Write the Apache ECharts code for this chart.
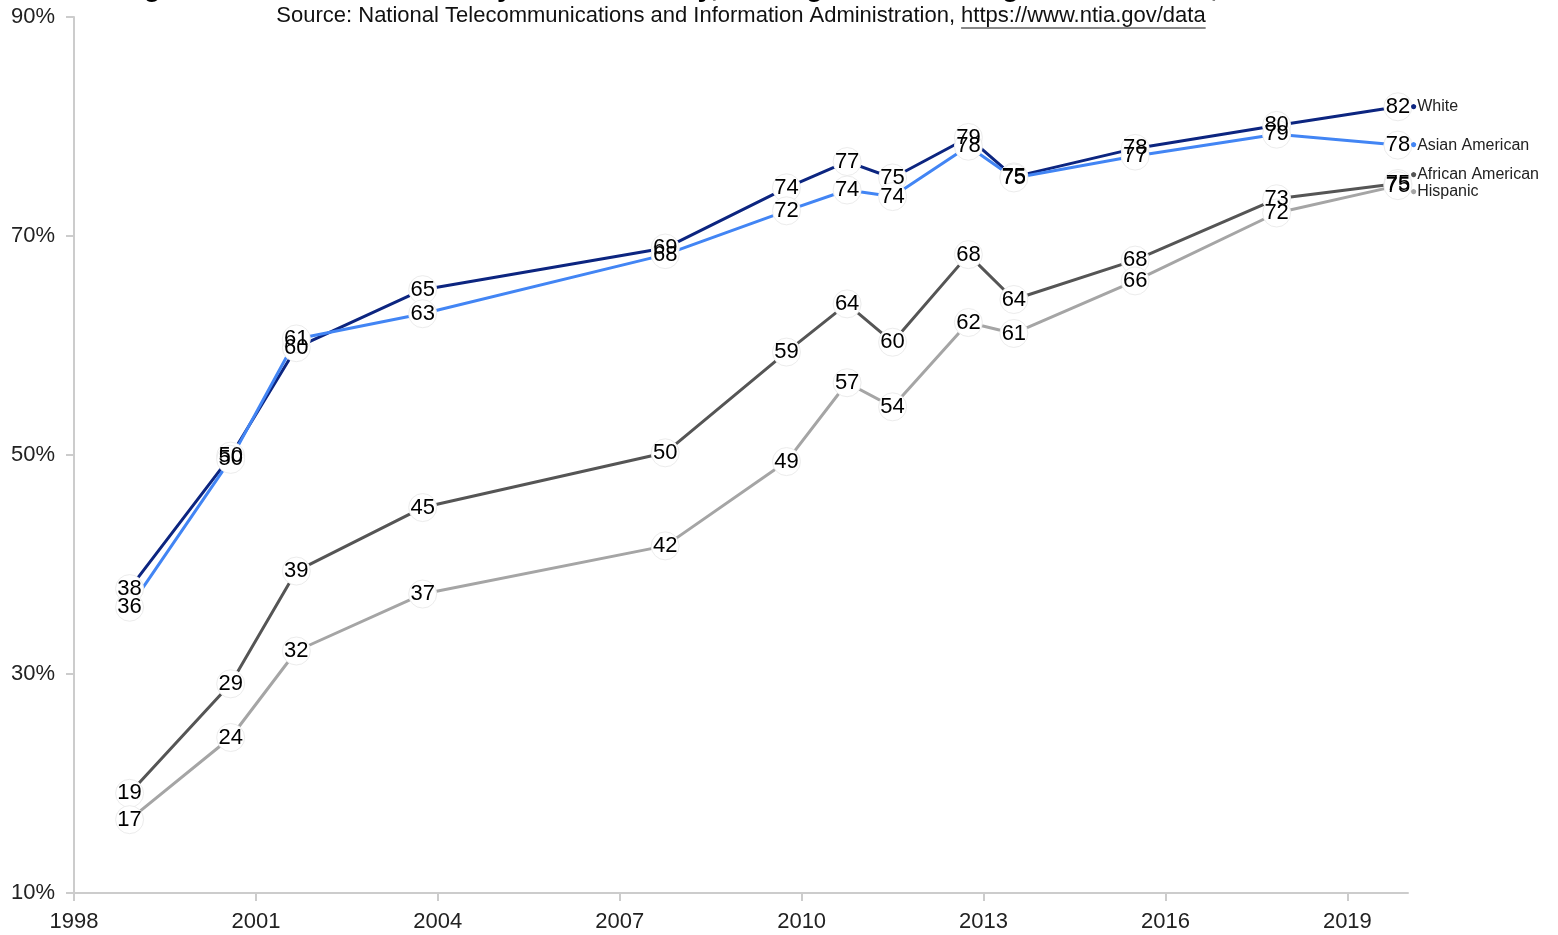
<!DOCTYPE html>
<html>
<head>
<meta charset="utf-8">
<script src="https://cdn.jsdelivr.net/npm/echarts@6/dist/echarts.min.js"></script>
<style>
html,body{margin:0;padding:0;background:#fff;}
#chart{width:1558px;height:935px;}
</style>
</head>
<body>
<div id="chart"></div>
<script>
// ---- data ----
const surveyDates = ['1998-12','2000-08','2001-09','2003-10','2007-10','2009-10','2010-10','2011-07','2012-10','2013-07','2015-07','2017-11','2019-11'];
const seriesNames = ['White','Asian American','African American','Hispanic'];
const whiteValues    = [37.8, 49.9, 59.8, 65.1, 68.9, 74.4, 76.8, 75.3, 79.0, 75.4, 78.0, 80.1, 81.8];
const asianValues    = [36.1, 49.6, 60.6, 62.9, 68.3, 72.3, 74.2, 73.6, 78.2, 75.3, 77.3, 79.3, 78.3];
const africanValues  = [19.1, 29.1, 39.4, 45.2, 50.2, 59.4, 63.8, 60.3, 68.3, 64.2, 67.8, 73.4, 74.8];
const hispanicValues = [16.7, 24.2, 32.1, 37.3, 41.7, 49.4, 56.6, 54.4, 62.1, 61.1, 65.9, 72.1, 74.6];
const xTickYears = [1998, 2001, 2004, 2007, 2010, 2013, 2016, 2019];
const yTicks = [10, 30, 50, 70, 90];
const titleText = 'Digital Divide: Internet Use by Race/Ethnicity, Among Americans Ages 3 and Older, 1998–2019';
const sourceText = 'Source: National Telecommunications and Information Administration, ';
const sourceUrl = 'https://www.ntia.gov/data';

// ---- build ----
const colors = ['#0c2580', '#4285f4', '#555555', '#a5a5a5'];
const endOffsets = [[0, 0], [0, 0], [0, -9], [0, 6]];
const allValues = [whiteValues, asianValues, africanValues, hispanicValues];
function toYear(s) { const [y, m] = s.split('-').map(Number); return y + (m - 1) / 12; }
const xs = surveyDates.map(toYear);

const FONT = '"Liberation Sans", Arial, Helvetica, sans-serif';

const series = seriesNames.map((name, i) => ({
  name: name,
  type: 'line',
  data: allValues[i].map((v, j) => [xs[j], v]),
  lineStyle: { color: colors[i], width: 3 },
  itemStyle: { color: '#ffffff', borderColor: '#ececec', borderWidth: 1 },
  symbol: 'circle',
  symbolSize: 28,
  showAllSymbol: true,
  label: {
    show: true, position: 'inside', color: '#000', fontSize: 22, fontFamily: FONT,
    formatter: p => Math.round(p.value[1])
  },
  endLabel: {
    show: true, distance: 12, offset: endOffsets[i],
    formatter: '{d|●}{n|' + name + '}',
    rich: {
      d: { color: colors[i], fontSize: 12, fontFamily: FONT },
      n: { color: '#222', fontSize: 16, fontFamily: FONT }
    }
  },
  emphasis: { disabled: true },
  z: 2
}));

const chart = echarts.init(document.getElementById('chart'), null, { renderer: 'canvas' });

// measure for underline
const ctx = document.createElement('canvas').getContext('2d');
ctx.font = '22px ' + FONT;
const wSrc = ctx.measureText(sourceText).width;
const wUrl = ctx.measureText(sourceUrl).width;
const centerX = 741;
const startX = centerX - (wSrc + wUrl) / 2;

chart.setOption({
  animation: false,
  backgroundColor: '#fff',
  grid: { left: 74, right: 150, top: 17, bottom: 42, containLabel: false },
  xAxis: {
    type: 'value', min: 1998, max: 2020, interval: 3,
    axisLine: { show: true, lineStyle: { color: '#cccccc', width: 2 } },
    axisTick: { show: true, length: 8, lineStyle: { color: '#cccccc', width: 2 }, customValues: xTickYears },
    axisLabel: { color: '#222', fontSize: 22, fontFamily: FONT, margin: 18, customValues: xTickYears, formatter: v => String(v) },
    splitLine: { show: false }
  },
  yAxis: {
    type: 'value', min: 10, max: 90, interval: 20,
    axisLine: { show: true, lineStyle: { color: '#cccccc', width: 2 } },
    axisTick: { show: true, length: 8, lineStyle: { color: '#cccccc', width: 2 }, customValues: yTicks },
    axisLabel: { color: '#222', fontSize: 22, fontFamily: FONT, margin: 19, customValues: yTicks, formatter: v => v + '%' },
    splitLine: { show: false }
  },
  graphic: [
    { type: 'text', x: centerX, y: 2, style: { text: titleText, font: 'bold 28px ' + FONT, fill: '#000', align: 'center', verticalAlign: 'bottom' }, silent: true },
    { type: 'text', x: startX, y: 16, style: { text: sourceText + sourceUrl, font: '22px ' + FONT, fill: '#111', verticalAlign: 'middle', align: 'left' } },
    { type: 'line', shape: { x1: startX + wSrc, y1: 28, x2: startX + wSrc + wUrl, y2: 28 }, style: { stroke: '#111', lineWidth: 1 } }
  ],
  series: series
});
</script>
</body>
</html>
